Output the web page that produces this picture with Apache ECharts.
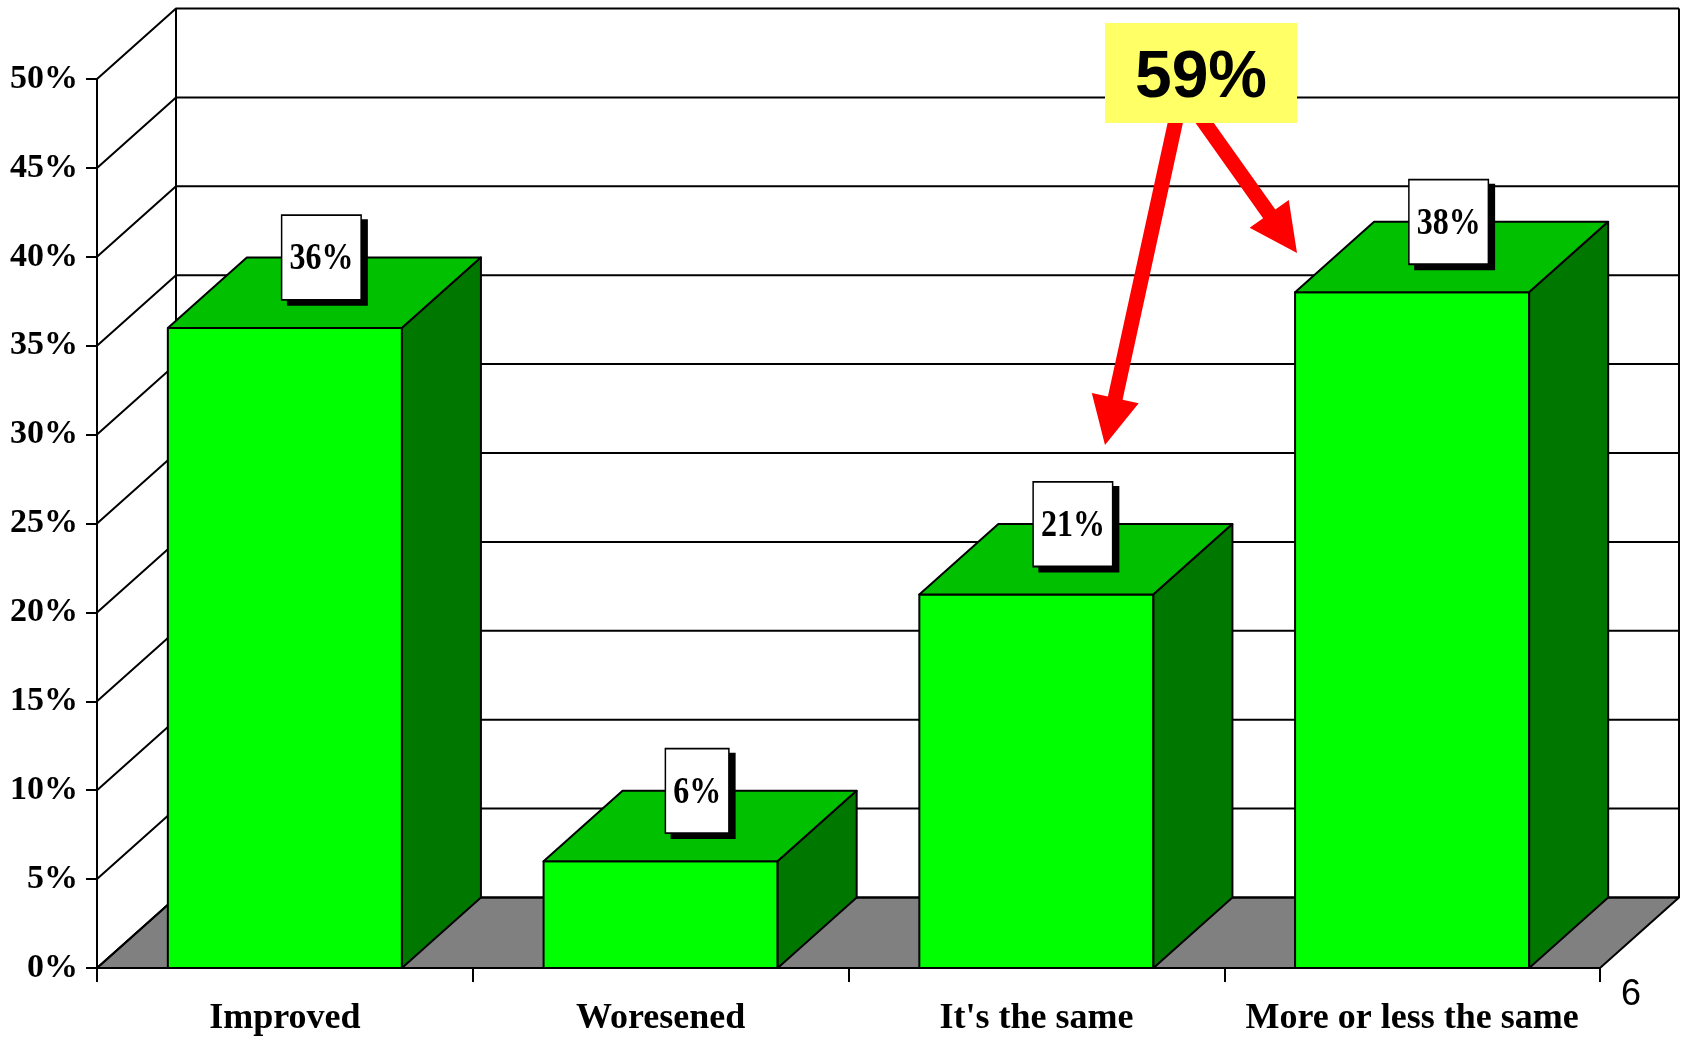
<!DOCTYPE html>
<html>
<head>
<meta charset="utf-8">
<title>Chart</title>
<script src="https://cdn.jsdelivr.net/npm/echarts@6/dist/echarts.min.js"></script>
<style>
html, body { margin: 0; padding: 0; background: #fff; }
#chart { width: 1681px; height: 1039px; }
</style>
</head>
<body>
<div id="chart"></div>
<script>
var categories = ['Improved', 'Woresened', "It's the same", 'More or less the same'];
var shares = [36, 6, 21, 38];
var wallTicks = [0, 5, 10, 15, 20, 25, 30, 35, 40, 45, 50];
var pageNo = '6';

// depth of the fake 3d box, in pixels
var DX = 79, DY = 70.5;
var serif = '"Liberation Serif", "Times New Roman", serif';
var sans = '"Liberation Sans", Arial, sans-serif';
var edge = { stroke: '#000', lineWidth: 2, lineJoin: 'round' };

function wallItem(params, api) {
    var cs = params.coordSys;
    var y = api.coord([0, api.value(0)])[1];
    var x0 = cs.x, x1 = cs.x + cs.width;
    var children = [];
    if (params.dataIndex === 0) {
        // floor and the two back verticals
        children.push({
            type: 'polygon',
            shape: { points: [[x0, y], [x1, y], [x1 + DX, y - DY], [x0 + DX, y - DY]] },
            style: Object.assign({ fill: '#808080' }, edge)
        });
        children.push({
            type: 'line',
            shape: { x1: x0 + DX, y1: cs.y - DY, x2: x0 + DX, y2: y - DY },
            style: edge
        });
        children.push({
            type: 'line',
            shape: { x1: x1 + DX, y1: cs.y - DY, x2: x1 + DX, y2: y - DY },
            style: edge
        });
    }
    children.push({
        type: 'polyline',
        shape: { points: [[x0, y], [x0 + DX, y - DY], [x1 + DX, y - DY]] },
        style: Object.assign({ fill: null }, edge)
    });
    return { type: 'group', children: children };
}

function barItem(params, api) {
    var val = api.value(1);
    var top = api.coord([api.value(0), val]);
    var base = api.coord([api.value(0), 0]);
    var w = api.size([1, 0])[0] * 0.623;
    var xl = top[0] - w / 2, xr = top[0] + w / 2;
    var yt = top[1], yb = base[1];
    return {
        type: 'group',
        children: [{
            type: 'polygon',
            shape: { points: [[xl, yb], [xr, yb], [xr, yt], [xl, yt]] },
            style: Object.assign({ fill: '#00ff00' }, edge)
        }, {
            type: 'polygon',
            shape: { points: [[xl, yt], [xr, yt], [xr + DX, yt - DY], [xl + DX, yt - DY]] },
            style: Object.assign({ fill: '#00c000' }, edge)
        }, {
            type: 'polygon',
            shape: { points: [[xr, yt], [xr + DX, yt - DY], [xr + DX, yb - DY], [xr, yb]] },
            style: Object.assign({ fill: '#007800' }, edge)
        }, {
            type: 'text',
            x: top[0] + DX / 2 - 3,
            y: yt - 29,
            scaleY: 1.2,
            style: {
                text: val + '%',
                font: 'bold 32px ' + serif,
                fill: '#000',
                align: 'center',
                verticalAlign: 'bottom',
                backgroundColor: '#fff',
                borderColor: '#000',
                borderWidth: 1.5,
                padding: [20, 7, 17, 7],
                shadowColor: '#000',
                shadowOffsetX: 6,
                shadowOffsetY: 5,
                shadowBlur: 0
            }
        }]
    };
}

function arrowPoints(x1, y1, x2, y2) {
    var len = Math.sqrt((x2 - x1) * (x2 - x1) + (y2 - y1) * (y2 - y1));
    var ux = (x2 - x1) / len, uy = (y2 - y1) / len;
    var nx = -uy, ny = ux;
    var sw = 7.5, hw = 24, hl = 48;
    var bx = x2 - ux * hl, by = y2 - uy * hl;
    return [
        [x1 + nx * sw, y1 + ny * sw], [bx + nx * sw, by + ny * sw], [bx + nx * hw, by + ny * hw],
        [x2, y2],
        [bx - nx * hw, by - ny * hw], [bx - nx * sw, by - ny * sw], [x1 - nx * sw, y1 - ny * sw]
    ];
}

var total = shares[2] + shares[3];

var option = {
    animation: false,
    backgroundColor: '#fff',
    grid: { left: 97, right: 81, top: 79, bottom: 71, containLabel: false, outerBoundsMode: 'none' },
    xAxis: {
        type: 'category',
        data: categories,
        axisLine: { show: true, lineStyle: { color: '#000', width: 2 } },
        axisTick: { show: true, length: 14, lineStyle: { color: '#000', width: 2 } },
        axisLabel: { interval: 0, color: '#000', fontFamily: serif, fontWeight: 'bold', fontSize: 36, margin: 33 },
        splitLine: { show: false }
    },
    yAxis: {
        type: 'value',
        min: 0,
        max: 50,
        interval: 5,
        axisLine: { show: true, lineStyle: { color: '#000', width: 2 } },
        axisTick: { show: true, length: 11, lineStyle: { color: '#000', width: 2 } },
        axisLabel: { formatter: '{value}%', color: '#000', fontFamily: serif, fontWeight: 'bold', fontSize: 34, margin: 19 },
        splitLine: { show: false }
    },
    series: [{
        type: 'custom',
        name: 'wall',
        z: 1,
        silent: true,
        renderItem: wallItem,
        encode: { y: 0 },
        data: wallTicks.map(function (t) { return [t]; })
    }, {
        type: 'custom',
        name: 'share',
        z: 2,
        renderItem: barItem,
        encode: { x: 0, y: 1 },
        data: shares.map(function (v, i) { return [i, v]; })
    }],
    graphic: [
        { type: 'polygon', z: 10, shape: { points: arrowPoints(1177, 115, 1105, 445) }, style: { fill: '#ff0000' } },
        { type: 'polygon', z: 10, shape: { points: arrowPoints(1199, 115, 1297, 253) }, style: { fill: '#ff0000' } },
        { type: 'rect', z: 11, shape: { x: 1105, y: 23, width: 192, height: 100 }, style: { fill: '#ffff66' } },
        {
            type: 'text', z: 12, x: 1201, y: 79,
            style: { text: total + '%', font: 'bold 66px ' + sans, fill: '#000', align: 'center', verticalAlign: 'middle' }
        },
        {
            type: 'text', z: 12, x: 1631, y: 995,
            style: { text: pageNo, font: '36px ' + sans, fill: '#000', align: 'center', verticalAlign: 'middle' }
        }
    ]
};

var myChart = echarts.init(document.getElementById('chart'));
myChart.setOption(option);
</script>
</body>
</html>
